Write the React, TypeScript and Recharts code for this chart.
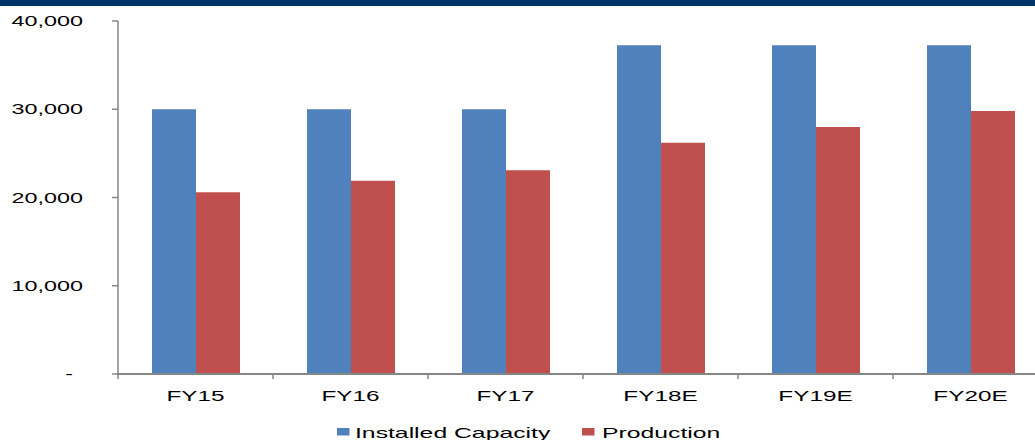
import { BarChart, Bar, XAxis, YAxis, Legend } from 'recharts'

// FY capacity vs production (units as in the source deck)
const categories = ['FY15', 'FY16', 'FY17', 'FY18E', 'FY19E', 'FY20E']
const installedCapacity = [30000, 30000, 30000, 37250, 37250, 37250]
const production = [20600, 21900, 23100, 26200, 28000, 29800]
const yTicks = [0, 10000, 20000, 30000, 40000]

const data = categories.map((c, i) => ({
  name: c,
  capacity: installedCapacity[i],
  production: production[i],
}))

const FONT = '"Liberation Sans", Arial, sans-serif'
const AXIS = '#868686'
const CHART_W = 1060
const Y_AXIS_W = 118
const PLOT_W = 930
const BAND = PLOT_W / categories.length

const fmt = (v: number) => (v === 0 ? '-' : v.toLocaleString('en-US'))

function YTick({ x, y, payload }: any) {
  const v = payload.value as number
  return (
    <g transform={`translate(${v === 0 ? x - 10 : x},${y})`}>
      <text textAnchor="end" dy="0.36em" fontSize={14} fontFamily={FONT} fill="#000"
        transform="scale(1.67,1)">
        {fmt(v)}
      </text>
    </g>
  )
}

function XTick({ x, y, payload, index }: any) {
  return (
    <g>
      <line x1={x - BAND / 2} x2={x - BAND / 2} y1={y} y2={y + 5} stroke={AXIS} strokeWidth={1.5} />
      {index === categories.length - 1 && (
        <line x1={x + BAND / 2} x2={x + BAND / 2} y1={y} y2={y + 5} stroke={AXIS} strokeWidth={1.5} />
      )}
      <g transform={`translate(${x},${y + 27})`}>
        <text textAnchor="middle" fontSize={15} fontFamily={FONT} fill="#000" transform="scale(1.62,1)">
          {payload.value}
        </text>
      </g>
    </g>
  )
}

const legendX = [[337, 355], [582, 602]]

function LegendBox({ payload }: any) {
  return (
    <svg width={CHART_W} height={36} style={{ display: 'block' }}>
      {(payload || []).map((p: any, i: number) => (
        <g key={p.value}>
          <rect x={legendX[i][0]} y={24} width={12.5} height={7.5} fill={p.color} />
          <g transform={`translate(${legendX[i][1]},33.5)`}>
            <text fontSize={15} fontFamily={FONT} fill="#000" transform="scale(1.65,1)">{p.value}</text>
          </g>
        </g>
      ))}
    </svg>
  )
}

export default function App() {
  return (
    <div style={{ position: 'absolute', left: 0, top: 0, width: 1035, height: 440, overflow: 'hidden', background: '#fff' }}>
      <div style={{ position: 'absolute', left: 0, top: 0, width: 1035, height: 6, background: '#003366', zIndex: 2 }} />
      <BarChart
        width={CHART_W}
        height={440}
        data={data}
        margin={{ top: 21, right: CHART_W - Y_AXIS_W - PLOT_W, bottom: 0, left: 0 }}
        barCategoryGap={34}
        barGap={0}
      >
        <XAxis
          dataKey="name"
          height={30}
          tickSize={0}
          tickMargin={0}
          tick={<XTick />}
          axisLine={{ stroke: AXIS, strokeWidth: 2 }}
          interval={0}
        />
        <YAxis
          width={Y_AXIS_W}
          domain={[0, 40000]}
          ticks={yTicks}
          tickSize={6}
          tickMargin={29}
          tick={<YTick />}
          axisLine={{ stroke: AXIS, strokeWidth: 1.5 }}
          tickLine={{ stroke: AXIS, strokeWidth: 1.5 }}
        />
        <Legend
          verticalAlign="bottom"
          height={36}
          content={<LegendBox />}
          wrapperStyle={{ left: 0, width: CHART_W, bottom: 0 }}
        />
        <Bar dataKey="capacity" name="Installed Capacity" fill="#4F81BD" isAnimationActive={false} />
        <Bar dataKey="production" name="Production" fill="#C0504D" isAnimationActive={false} />
      </BarChart>
    </div>
  )
}
